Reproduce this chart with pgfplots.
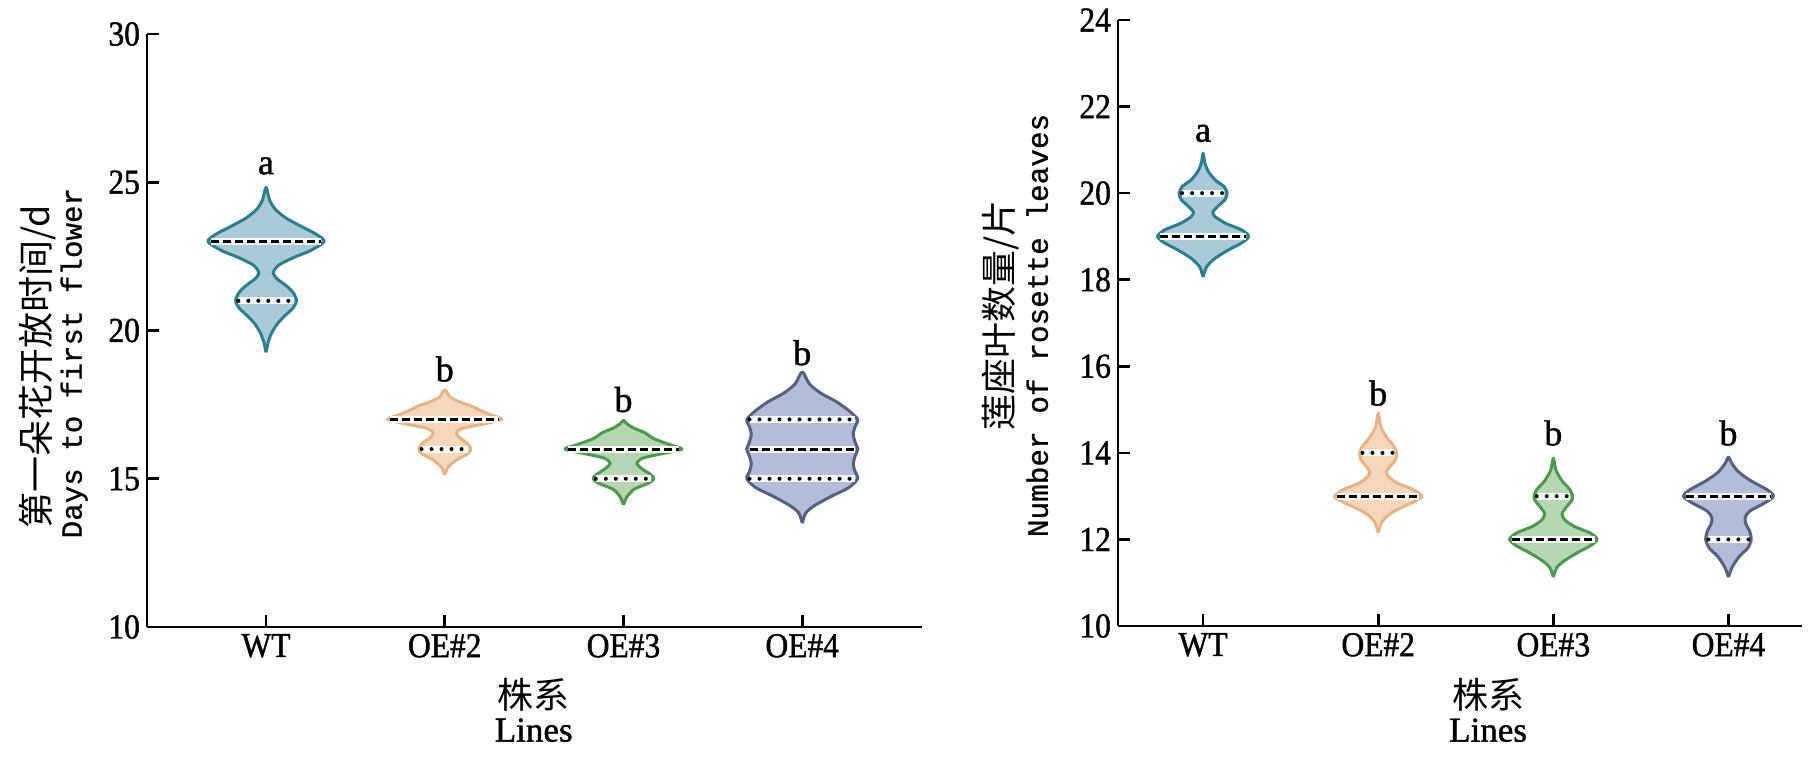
\documentclass[border=0pt]{standalone}
\usepackage{fontspec}
\setmainfont{Liberation Serif}[FakeBold=1.2]
\newfontfamily\tfont{Liberation Serif}[FakeStretch=0.9, FakeBold=1.2]
\newfontfamily\cjk{Noto Sans CJK SC}
\newfontfamily\mono{Liberation Mono}[FakeBold=0.8]
\usepackage{pgfplots}
\usepackage{pgfplotstable}
\pgfplotsset{compat=1.18}

\definecolor{f1}{HTML}{A9CAD6}\definecolor{e1}{HTML}{2A7F8C}
\definecolor{f2}{HTML}{F5D7BC}\definecolor{e2}{HTML}{E8B485}
\definecolor{f3}{HTML}{B7D6B3}\definecolor{e3}{HTML}{4C9A50}
\definecolor{f4}{HTML}{B4BCD8}\definecolor{e4}{HTML}{56607F}

% ---- left panel outlines (x = signed half width, y = days)
\pgfplotstableread[row sep=\\]{x y\\
0 19.26\\ 0.012 19.6\\ 0.03 19.9\\ 0.06 20.2\\ 0.10 20.47\\ 0.15 20.75\\ 0.17 21.0\\ 0.155 21.25\\ 0.115 21.5\\ 0.06 21.75\\ 0.04 21.95\\ 0.07 22.2\\ 0.15 22.45\\ 0.25 22.7\\ 0.325 23.0\\ 0.28 23.25\\ 0.20 23.5\\ 0.11 23.8\\ 0.05 24.1\\ 0.02 24.4\\ 0 24.83\\
-0.02 24.4\\ -0.05 24.1\\ -0.11 23.8\\ -0.20 23.5\\ -0.28 23.25\\ -0.325 23.0\\ -0.25 22.7\\ -0.15 22.45\\ -0.07 22.2\\ -0.04 21.95\\ -0.06 21.75\\ -0.115 21.5\\ -0.155 21.25\\ -0.17 21.0\\ -0.15 20.75\\ -0.10 20.47\\ -0.06 20.2\\ -0.03 19.9\\ -0.012 19.6\\ 0 19.26\\
}\LWT
\pgfplotstableread[row sep=\\]{x y\\
0 15.13\\ 0.02 15.4\\ 0.07 15.65\\ 0.13 15.85\\ 0.145 16.0\\ 0.125 16.2\\ 0.08 16.4\\ 0.065 16.55\\ 0.10 16.7\\ 0.22 16.85\\ 0.32 17.0\\ 0.26 17.15\\ 0.20 17.3\\ 0.15 17.45\\ 0.08 17.6\\ 0.03 17.75\\ 0 18.0\\
-0.03 17.75\\ -0.08 17.6\\ -0.15 17.45\\ -0.20 17.3\\ -0.26 17.15\\ -0.32 17.0\\ -0.22 16.85\\ -0.10 16.7\\ -0.065 16.55\\ -0.08 16.4\\ -0.125 16.2\\ -0.145 16.0\\ -0.13 15.85\\ -0.07 15.65\\ -0.02 15.4\\ 0 15.13\\
}\LOEb
\pgfplotstableread[row sep=\\]{x y\\
0 14.12\\ 0.02 14.4\\ 0.06 14.65\\ 0.14 14.85\\ 0.17 15.0\\ 0.15 15.15\\ 0.10 15.35\\ 0.075 15.53\\ 0.11 15.7\\ 0.22 15.85\\ 0.327 16.0\\ 0.26 16.15\\ 0.17 16.35\\ 0.12 16.55\\ 0.06 16.7\\ 0.02 16.85\\ 0 16.97\\
-0.02 16.85\\ -0.06 16.7\\ -0.12 16.55\\ -0.17 16.35\\ -0.26 16.15\\ -0.327 16.0\\ -0.22 15.85\\ -0.11 15.7\\ -0.075 15.53\\ -0.10 15.35\\ -0.15 15.15\\ -0.17 15.0\\ -0.14 14.85\\ -0.06 14.65\\ -0.02 14.4\\ 0 14.12\\
}\LOEc
\pgfplotstableread[row sep=\\]{x y\\
0 13.5\\ 0.02 13.85\\ 0.07 14.1\\ 0.16 14.4\\ 0.26 14.7\\ 0.31 15.0\\ 0.295 15.25\\ 0.285 15.5\\ 0.295 15.75\\ 0.31 16.0\\ 0.295 16.25\\ 0.285 16.5\\ 0.295 16.75\\ 0.31 17.0\\ 0.26 17.3\\ 0.19 17.6\\ 0.10 17.9\\ 0.04 18.2\\ 0 18.6\\
-0.04 18.2\\ -0.10 17.9\\ -0.19 17.6\\ -0.26 17.3\\ -0.31 17.0\\ -0.295 16.75\\ -0.285 16.5\\ -0.295 16.25\\ -0.31 16.0\\ -0.295 15.75\\ -0.285 15.5\\ -0.295 15.25\\ -0.31 15.0\\ -0.26 14.7\\ -0.16 14.4\\ -0.07 14.1\\ -0.02 13.85\\ 0 13.5\\
}\LOEd
% ---- right panel outlines (x = signed half width, y = leaves)
\pgfplotstableread[row sep=\\]{x y\\
0 18.06\\ 0.02 18.3\\ 0.07 18.5\\ 0.15 18.7\\ 0.22 18.85\\ 0.26 19.0\\ 0.22 19.15\\ 0.13 19.3\\ 0.07 19.45\\ 0.055 19.56\\ 0.085 19.7\\ 0.125 19.85\\ 0.137 20.0\\ 0.12 20.15\\ 0.07 20.3\\ 0.03 20.5\\ 0.01 20.7\\ 0 20.92\\
-0.01 20.7\\ -0.03 20.5\\ -0.07 20.3\\ -0.12 20.15\\ -0.137 20.0\\ -0.125 19.85\\ -0.085 19.7\\ -0.055 19.56\\ -0.07 19.45\\ -0.13 19.3\\ -0.22 19.15\\ -0.26 19.0\\ -0.22 18.85\\ -0.15 18.7\\ -0.07 18.5\\ -0.02 18.3\\ 0 18.06\\
}\RWT
\pgfplotstableread[row sep=\\]{x y\\
0 12.15\\ 0.02 12.4\\ 0.07 12.6\\ 0.14 12.75\\ 0.22 12.9\\ 0.25 13.0\\ 0.20 13.15\\ 0.11 13.3\\ 0.06 13.45\\ 0.048 13.56\\ 0.07 13.7\\ 0.10 13.85\\ 0.105 14.0\\ 0.09 14.15\\ 0.05 14.35\\ 0.015 14.6\\ 0 14.92\\
-0.015 14.6\\ -0.05 14.35\\ -0.09 14.15\\ -0.105 14.0\\ -0.10 13.85\\ -0.07 13.7\\ -0.048 13.56\\ -0.06 13.45\\ -0.11 13.3\\ -0.20 13.15\\ -0.25 13.0\\ -0.22 12.9\\ -0.14 12.75\\ -0.07 12.6\\ -0.02 12.4\\ 0 12.15\\
}\ROEb
\pgfplotstableread[row sep=\\]{x y\\
0 11.13\\ 0.02 11.35\\ 0.06 11.5\\ 0.14 11.7\\ 0.21 11.85\\ 0.25 12.0\\ 0.21 12.15\\ 0.12 12.3\\ 0.065 12.45\\ 0.05 12.6\\ 0.075 12.75\\ 0.105 12.9\\ 0.11 13.0\\ 0.095 13.15\\ 0.05 13.35\\ 0.015 13.6\\ 0 13.88\\
-0.015 13.6\\ -0.05 13.35\\ -0.095 13.15\\ -0.11 13.0\\ -0.105 12.9\\ -0.075 12.75\\ -0.05 12.6\\ -0.065 12.45\\ -0.12 12.3\\ -0.21 12.15\\ -0.25 12.0\\ -0.21 11.85\\ -0.14 11.7\\ -0.06 11.5\\ -0.02 11.35\\ 0 11.13\\
}\ROEc
\pgfplotstableread[row sep=\\]{x y\\
0 11.13\\ 0.02 11.35\\ 0.06 11.6\\ 0.11 11.8\\ 0.13 12.0\\ 0.12 12.2\\ 0.10 12.35\\ 0.095 12.5\\ 0.12 12.65\\ 0.21 12.85\\ 0.257 13.0\\ 0.22 13.15\\ 0.13 13.35\\ 0.06 13.55\\ 0.02 13.75\\ 0 13.9\\
-0.02 13.75\\ -0.06 13.55\\ -0.13 13.35\\ -0.22 13.15\\ -0.257 13.0\\ -0.21 12.85\\ -0.12 12.65\\ -0.095 12.5\\ -0.10 12.35\\ -0.12 12.2\\ -0.13 12.0\\ -0.11 11.8\\ -0.06 11.6\\ -0.02 11.35\\ 0 11.13\\
}\ROEd

\newcommand{\violin}[4]{\addplot[draw=#4, fill=#3, line width=1.5pt, smooth, tension=0.45, line join=round] table[x expr=\thisrow{x}+#2, y=y]{#1};}

\pgfplotsset{
  halo/.style={white, line width=3.6pt, opacity=0.9, forget plot},
  dashq/.style={black, line width=1.6pt, dash pattern=on 4pt off 2pt, forget plot},
  dotq/.style={black, line width=2pt, line cap=round, dash pattern=on 0pt off 5pt, forget plot},
  vstyle/.style={
    scale only axis,
    axis x line*=bottom, axis y line*=left,
    axis line style={-, line width=1.3pt},
    every outer x axis line/.append style={-},
    every outer y axis line/.append style={-},
    tick align=inside, major tick length=6pt,
    tick style={line width=1.3pt, black},
    minor tick num=0,
    xtick={0,1,2,3}, xticklabels={WT,OE\#2,OE\#3,OE\#4},
    ticklabel style={font=\tfont\fontsize{17.5}{20}\selectfont},
    /pgf/number format/assume math mode=true,
    clip=false,
  },
}

\begin{document}
\begin{tikzpicture}
\path[use as bounding box] (-73.5pt,-64.5pt) rectangle (834.5pt,313.5pt);

\begin{axis}[vstyle, at={(0,0)}, anchor=south west,
  width=387.5pt, height=296.5pt,
  xmin=-0.666, xmax=3.67, ymin=10, ymax=30,
  ytick={10,15,20,25,30}]
\violin{\LWT}{0}{f1}{e1}
\violin{\LOEb}{1}{f2}{e2}
\violin{\LOEc}{2}{f3}{e3}
\violin{\LOEd}{3}{f4}{e4}
% quartile / median lines
\addplot[halo] coordinates {(-0.31,23) (0.31,23)};
\addplot[dashq] coordinates {(-0.31,23) (0.31,23)};
\addplot[halo] coordinates {(-0.155,21) (0.155,21)};
\addplot[dotq] coordinates {(-0.155,21) (0.155,21)};
\addplot[halo] coordinates {(0.695,17) (1.305,17)};
\addplot[dashq] coordinates {(0.695,17) (1.305,17)};
\addplot[halo] coordinates {(0.87,16) (1.13,16)};
\addplot[dotq] coordinates {(0.87,16) (1.13,16)};
\addplot[halo] coordinates {(1.69,16) (2.31,16)};
\addplot[dashq] coordinates {(1.69,16) (2.31,16)};
\addplot[halo] coordinates {(1.845,15) (2.155,15)};
\addplot[dotq] coordinates {(1.845,15) (2.155,15)};
\addplot[halo] coordinates {(2.705,17) (3.295,17)};
\addplot[dotq] coordinates {(2.705,17) (3.295,17)};
\addplot[halo] coordinates {(2.705,16) (3.295,16)};
\addplot[dashq] coordinates {(2.705,16) (3.295,16)};
\addplot[halo] coordinates {(2.705,15) (3.295,15)};
\addplot[dotq] coordinates {(2.705,15) (3.295,15)};
% significance letters
\node[font=\fontsize{18}{20}\selectfont] at (axis cs:0,25.55) {a};
\node[font=\fontsize{18}{20}\selectfont] at (axis cs:1,18.7) {b};
\node[font=\fontsize{18}{20}\selectfont] at (axis cs:2,17.67) {b};
\node[font=\fontsize{18}{20}\selectfont] at (axis cs:3,19.25) {b};
% axis titles
\node[rotate=90, font=\cjk\fontsize{18}{20}\selectfont] at (axis description cs:-0.141,0.438) {第一朵花开放时间/d};
\node[rotate=90, font=\mono\fontsize{14.6}{18}\selectfont] at (axis description cs:-0.094,0.445) {Days to first flower};
\node[font=\cjk\fontsize{18}{20}\selectfont] at (axis description cs:0.499,-0.115) {株系};
\node[font=\fontsize{17.5}{20}\selectfont] at (axis description cs:0.499,-0.174) {Lines};
\end{axis}

\begin{axis}[vstyle, at={(485.5pt,0.5pt)}, anchor=south west,
  width=342pt, height=303pt,
  xmin=-0.486, xmax=3.42, ymin=10, ymax=24,
  ytick={10,12,14,16,18,20,22,24}]
\violin{\RWT}{0}{f1}{e1}
\violin{\ROEb}{1}{f2}{e2}
\violin{\ROEc}{2}{f3}{e3}
\violin{\ROEd}{3}{f4}{e4}
\addplot[halo] coordinates {(-0.12,20) (0.12,20)};
\addplot[dotq] coordinates {(-0.12,20) (0.12,20)};
\addplot[halo] coordinates {(-0.245,19) (0.245,19)};
\addplot[dashq] coordinates {(-0.245,19) (0.245,19)};
\addplot[halo] coordinates {(0.91,14) (1.09,14)};
\addplot[dotq] coordinates {(0.91,14) (1.09,14)};
\addplot[halo] coordinates {(0.765,13) (1.235,13)};
\addplot[dashq] coordinates {(0.765,13) (1.235,13)};
\addplot[halo] coordinates {(1.905,13) (2.095,13)};
\addplot[dotq] coordinates {(1.905,13) (2.095,13)};
\addplot[halo] coordinates {(1.765,12) (2.235,12)};
\addplot[dashq] coordinates {(1.765,12) (2.235,12)};
\addplot[halo] coordinates {(2.757,13) (3.243,13)};
\addplot[dashq] coordinates {(2.757,13) (3.243,13)};
\addplot[halo] coordinates {(2.885,12) (3.115,12)};
\addplot[dotq] coordinates {(2.885,12) (3.115,12)};
\node[font=\fontsize{18}{20}\selectfont] at (axis cs:0,21.38) {a};
\node[font=\fontsize{18}{20}\selectfont] at (axis cs:1,15.38) {b};
\node[font=\fontsize{18}{20}\selectfont] at (axis cs:2,14.46) {b};
\node[font=\fontsize{18}{20}\selectfont] at (axis cs:3,14.46) {b};
\node[rotate=90, font=\cjk\fontsize{18}{20}\selectfont] at (axis description cs:-0.1725,0.513) {莲座叶数量/片};
\node[rotate=90, font=\mono\fontsize{14.7}{18}\selectfont] at (axis description cs:-0.118,0.496) {Number of rosette leaves};
\node[font=\cjk\fontsize{18}{20}\selectfont] at (axis description cs:0.541,-0.114) {株系};
\node[font=\fontsize{17.5}{20}\selectfont] at (axis description cs:0.541,-0.172) {Lines};
\end{axis}
\end{tikzpicture}
\end{document}
